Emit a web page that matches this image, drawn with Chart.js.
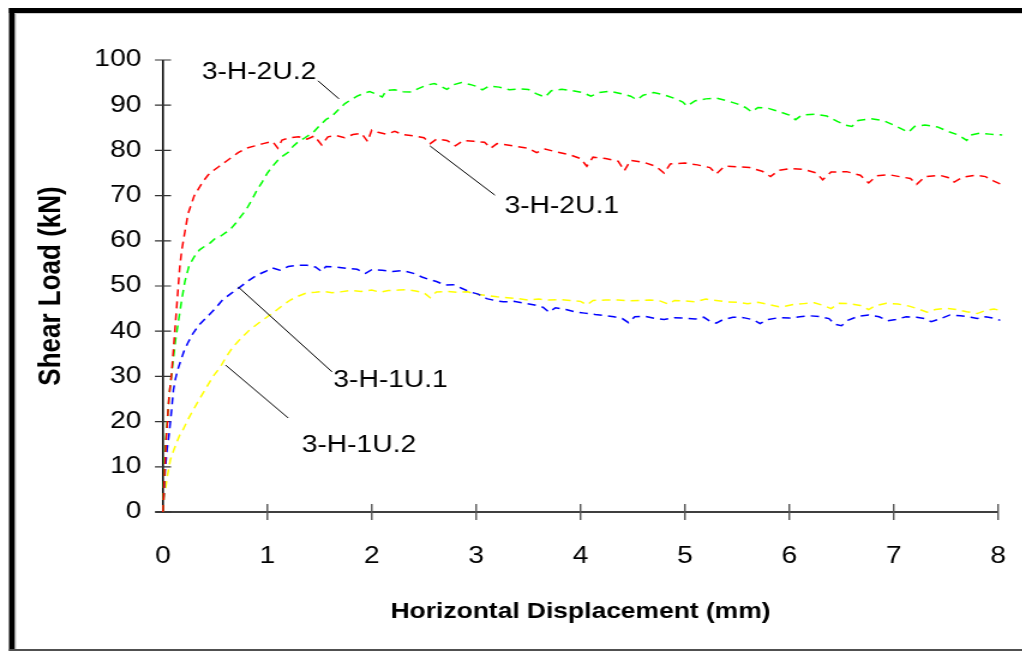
<!DOCTYPE html>
<html>
<head>
<meta charset="utf-8">
<script src="https://cdn.jsdelivr.net/npm/chart.js@4/dist/chart.umd.min.js"></script>
<style>
  html, body { margin: 0; padding: 0; background: #fff; overflow: hidden; }
  #wrap { width: 852px; height: 654px; transform: scaleX(1.2); transform-origin: 0 0; }
</style>
</head>
<body>
<div id="wrap"><canvas id="chart" width="852" height="654"></canvas></div>
<script>
// shear load vs horizontal displacement, four specimens
const xTicks = [0, 1, 2, 3, 4, 5, 6, 7, 8];
const yTicks = [0, 10, 20, 30, 40, 50, 60, 70, 80, 90, 100];

const seriesNames = ['3-H-2U.1', '3-H-2U.2', '3-H-1U.1', '3-H-1U.2'];
const seriesColors = ['#ff0000', '#00ff00', '#0000ff', '#ffff00'];

const red = [
  [0,0],[0.01,6],[0.02,11],[0.03,16],[0.04,19],[0.05,23],[0.06,26],[0.08,30],[0.1,36],[0.12,42],[0.14,48],[0.16,54],
  [0.18,58],[0.21,62],[0.24,66],[0.27,68],[0.3,70],[0.34,71.5],[0.38,73],[0.43,74.5],[0.48,75.5],[0.54,76.5],
  [0.6,77.5],[0.66,78.5],[0.72,79.5],[0.8,80.5],[0.88,81],[0.96,81.5],[1.05,82],[1.1,80.5],[1.14,82.3],[1.22,82.8],
  [1.3,83],[1.38,82.5],[1.45,83.2],[1.52,81.2],[1.58,83],[1.66,83.3],[1.74,82.8],[1.82,83.5],[1.9,83.8],[1.96,82],
  [2.0,84.5],[2.06,84],[2.14,83.6],[2.22,84.2],[2.3,83.5],[2.4,83.2],[2.5,82.8],[2.56,81.5],[2.62,82.5],[2.72,82.2],
  [2.8,81],[2.88,82.2],[2.98,82],[3.08,81.8],[3.14,80.5],[3.2,81.5],[3.3,81.2],[3.4,80.8],[3.5,80.5],[3.58,79.5],
  [3.66,80.3],[3.78,79.6],[3.9,79],[4.0,78.2],[4.06,76.5],[4.12,78.5],[4.24,78.2],[4.36,77.6],[4.42,75.5],[4.48,77.8],
  [4.6,77.4],[4.72,76.5],[4.8,75],[4.86,77],[5.0,77.2],[5.12,76.8],[5.24,76.2],[5.3,74.8],[5.38,76.5],[5.5,76.4],
  [5.62,76.2],[5.74,75.4],[5.82,74.2],[5.9,75.6],[6.02,76],[6.14,75.8],[6.26,75],[6.32,73.5],[6.4,75.2],[6.55,75.3],
  [6.68,74.5],[6.76,72.8],[6.84,74.4],[6.96,74.6],[7.08,74.1],[7.16,73.8],[7.22,72.5],[7.3,74.2],[7.44,74.5],[7.52,74],
  [7.58,73],[7.66,74.1],[7.78,74.5],[7.88,74.2],[7.96,73.2],[8.02,72.6],[8.08,71.6]
];

const green = [
  [0,0],[0.01,8],[0.02,14],[0.04,20],[0.06,26],[0.08,30],[0.1,34],[0.12,38],[0.15,42.5],[0.18,47],[0.21,51],
  [0.25,54.5],[0.3,56.5],[0.35,58],[0.4,58.8],[0.45,59.5],[0.5,60.5],[0.55,61],[0.6,61.8],[0.64,62.4],[0.7,64],
  [0.75,65.5],[0.8,67],[0.85,69],[0.9,71.2],[0.95,73],[1.0,75],[1.05,76.5],[1.1,77.8],[1.15,78.8],[1.2,79.6],
  [1.25,81],[1.3,82],[1.36,82.8],[1.44,84],[1.5,85.5],[1.56,86.8],[1.62,87.6],[1.68,89],[1.74,90.3],[1.8,91.2],
  [1.86,92],[1.92,92.6],[1.98,93],[2.04,92.5],[2.1,91.8],[2.14,93.3],[2.22,93.4],[2.3,93],[2.38,92.9],[2.44,93.6],
  [2.52,94.4],[2.6,94.8],[2.66,94.2],[2.72,93.5],[2.78,94.5],[2.86,95],[2.94,94.6],[3.0,94.2],[3.06,93.4],[3.12,94.2],
  [3.22,94],[3.32,93.4],[3.4,93.6],[3.5,93.5],[3.58,92.5],[3.66,91.8],[3.72,93.2],[3.82,93.5],[3.92,93.2],[4.02,92.8],
  [4.1,92],[4.18,92.8],[4.28,93.1],[4.38,92.6],[4.48,92],[4.54,91.2],[4.6,92.2],[4.7,92.8],[4.8,92.3],[4.9,91.5],
  [4.98,90.7],[5.02,89.8],[5.1,91],[5.2,91.4],[5.3,91.6],[5.4,91],[5.5,90.3],[5.58,89.5],[5.64,88.5],[5.7,89.5],
  [5.8,89.3],[5.9,88.6],[6.0,87.8],[6.06,86.8],[6.12,87.8],[6.24,88],[6.36,87.6],[6.46,86.4],[6.54,85.6],[6.6,85.3],
  [6.66,86.6],[6.78,87],[6.9,86.6],[7.0,85.6],[7.08,84.7],[7.14,84],[7.2,85.3],[7.3,85.6],[7.42,85.2],[7.52,84.2],
  [7.62,83.4],[7.7,82.2],[7.74,83.4],[7.82,83.8],[7.92,83.6],[8.04,83.4],[8.08,83.2]
];

const blue = [
  [0,0],[0.01,4],[0.02,9],[0.04,14],[0.06,17.5],[0.08,22],[0.1,27],[0.12,29.5],[0.14,31.4],[0.17,33.5],[0.2,35.5],
  [0.24,37.5],[0.29,39.6],[0.35,41.5],[0.42,43.1],[0.5,45],[0.57,46.9],[0.65,48.3],[0.74,49.8],[0.82,51.2],[0.9,52.4],
  [0.98,53.2],[1.05,54],[1.12,53.5],[1.2,54.3],[1.3,54.6],[1.38,54.6],[1.46,54.2],[1.52,53.2],[1.56,54.3],[1.66,54.2],
  [1.76,53.9],[1.86,53.7],[1.94,52.8],[2.0,53.6],[2.1,53.5],[2.2,53.2],[2.3,53.4],[2.4,52.8],[2.48,52],[2.54,51.5],
  [2.62,51],[2.7,50.2],[2.78,50.3],[2.86,49.5],[2.94,48.7],[3.02,48.2],[3.1,47.2],[3.18,46.8],[3.26,46.5],[3.36,46.6],
  [3.46,46.2],[3.56,45.8],[3.64,45.3],[3.7,44.2],[3.76,45.2],[3.86,44.8],[3.96,44.2],[4.04,44],[4.14,43.7],[4.22,43.5],
  [4.32,43.2],[4.4,42.8],[4.46,41.9],[4.52,43.2],[4.62,43.3],[4.72,42.8],[4.8,42.6],[4.9,43],[5.0,42.9],[5.1,42.7],
  [5.18,43.1],[5.24,42.2],[5.3,41.8],[5.36,42.5],[5.46,43.1],[5.56,43],[5.66,42.5],[5.72,41.7],[5.8,42.6],[5.9,43],
  [6.0,42.9],[6.1,43.2],[6.2,43.4],[6.3,43.2],[6.38,42.8],[6.44,41.5],[6.5,41.2],[6.56,42.4],[6.66,43.3],[6.76,43.6],
  [6.86,43.2],[6.94,42.3],[7.02,42.6],[7.12,43.2],[7.22,43.1],[7.3,42.8],[7.36,42.1],[7.44,42.7],[7.54,43.6],[7.64,43.4],
  [7.74,43.1],[7.8,42.8],[7.88,43.2],[7.96,42.9],[8.02,42.4],[8.08,41.9]
];

const yellow = [
  [0,0],[0.01,3],[0.03,6],[0.04,7.7],[0.07,11.5],[0.1,13.5],[0.13,15.3],[0.16,17],[0.19,18.1],[0.24,20.5],[0.29,22.6],
  [0.35,25],[0.42,27.7],[0.48,30],[0.55,32.1],[0.61,34.5],[0.67,36.5],[0.75,38.5],[0.83,40.3],[0.94,42.2],[1.05,44],
  [1.14,45.6],[1.22,46.9],[1.3,47.8],[1.38,48.5],[1.46,48.6],[1.54,48.8],[1.62,48.5],[1.7,48.7],[1.8,49],[1.9,48.8],
  [2.0,49.1],[2.08,48.6],[2.16,49],[2.26,49.1],[2.34,49.2],[2.42,48.9],[2.5,48.5],[2.56,47.4],[2.62,48.7],[2.72,48.8],
  [2.82,48.6],[2.92,48.7],[3.0,48.2],[3.1,47.9],[3.2,47.6],[3.3,47.4],[3.4,47.2],[3.5,46.9],[3.6,47.1],[3.7,46.9],
  [3.8,47],[3.9,46.8],[4.0,46.6],[4.06,45.8],[4.12,46.8],[4.24,46.9],[4.36,46.9],[4.46,46.7],[4.56,46.8],[4.66,46.9],
  [4.76,46.7],[4.84,46],[4.9,46.8],[5.0,46.7],[5.1,46.5],[5.2,47.1],[5.3,46.8],[5.4,46.5],[5.5,46.4],[5.6,46.1],
  [5.7,46.4],[5.8,45.9],[5.9,45.4],[5.96,45.5],[6.04,45.9],[6.14,46.1],[6.24,46.3],[6.34,45.6],[6.4,45],[6.48,46.2],
  [6.58,46.1],[6.68,45.7],[6.76,44.8],[6.82,45.6],[6.93,46.2],[7.04,46],[7.14,45.6],[7.24,44.9],[7.32,44.2],[7.4,44.8],
  [7.5,45.1],[7.6,44.8],[7.7,44.3],[7.8,43.9],[7.88,44.6],[7.96,44.9],[8.04,44.5],[8.08,44]
];

// callout text positions and leader lines, in data units
const calloutX = [3.82, 0.92, 2.18, 1.877];
const calloutY = [67.5, 97.3, 29.2, 14.8];
const leaders = [
  [2.557, 81, 3.18, 70.1],
  [1.485, 95.4, 1.686, 91.4],
  [0.72, 49.8, 1.62, 31],
  [0.6, 32.5, 1.2, 20.8]
];

const FONT = 'Arial, "Liberation Sans", sans-serif';

const frame = {
  id: 'frame',
  beforeDraw(chart) {
    const ctx = chart.ctx;
    ctx.save();
    ctx.fillStyle = '#fff';
    ctx.fillRect(0, 0, chart.width, chart.height);
    ctx.fillStyle = '#000';
    ctx.fillRect(7.5, 8, 5, 643);
    ctx.fillRect(7.5, 8, chart.width, 5);
    ctx.fillStyle = '#d0d0d0';
    ctx.fillRect(12.5, 13, 1, 637);
    ctx.fillRect(12.5, 13, chart.width, 1);
    ctx.fillStyle = '#505050';
    ctx.fillRect(7.5, 649, chart.width, 2);
    ctx.restore();
  }
};

const axes = {
  id: 'axes',
  beforeDatasetsDraw(chart) {
    const ctx = chart.ctx;
    const xs = chart.scales.x, ys = chart.scales.y;
    const x0 = xs.getPixelForValue(0), y0 = ys.getPixelForValue(0);
    ctx.save();
    ctx.strokeStyle = '#000';
    ctx.lineWidth = 1.5;
    ctx.beginPath();
    ctx.moveTo(x0, ys.getPixelForValue(100));
    ctx.lineTo(x0, y0);
    ctx.moveTo(x0 - 6.5, y0);
    ctx.lineTo(xs.getPixelForValue(8), y0);
    ctx.stroke();
    ctx.lineWidth = 1.2;
    ctx.strokeStyle = '#333';
    ctx.beginPath();
    yTicks.forEach(v => {
      const p = ys.getPixelForValue(v);
      ctx.moveTo(x0 - 6.7, p);
      ctx.lineTo(x0 + 6.7, p);
    });
    ctx.stroke();
    ctx.strokeStyle = '#555';
    ctx.lineWidth = 1.4;
    ctx.beginPath();
    xTicks.forEach(v => {
      if (v === 0) return;
      const p = xs.getPixelForValue(v);
      ctx.moveTo(p, y0 - 8);
      ctx.lineTo(p, y0 + 8);
    });
    ctx.stroke();
    ctx.restore();
  }
};

const callouts = {
  id: 'callouts',
  afterDatasetsDraw(chart) {
    const ctx = chart.ctx;
    const xs = chart.scales.x, ys = chart.scales.y;
    ctx.save();
    ctx.strokeStyle = '#000';
    ctx.lineWidth = 1;
    leaders.forEach(l => {
      ctx.beginPath();
      ctx.moveTo(xs.getPixelForValue(l[0]), ys.getPixelForValue(l[1]));
      ctx.lineTo(xs.getPixelForValue(l[2]), ys.getPixelForValue(l[3]));
      ctx.stroke();
    });
    ctx.fillStyle = '#000';
    ctx.font = '23.5px ' + FONT;
    ctx.textAlign = 'center';
    ctx.textBaseline = 'middle';
    seriesNames.forEach((name, i) => {
      ctx.fillText(name, xs.getPixelForValue(calloutX[i]), ys.getPixelForValue(calloutY[i]));
    });
    ctx.restore();
  }
};

const curves = [red, green, blue, yellow];

new Chart(document.getElementById('chart'), {
  type: 'line',
  data: {
    datasets: curves.map((pts, i) => ({
      label: seriesNames[i],
      data: pts.map(p => ({ x: p[0], y: p[1] })),
      borderColor: seriesColors[i],
      borderWidth: 1.5,
      borderDash: [7, 5],
      pointRadius: 0,
      tension: 0,
      fill: false,
      clip: false
    }))
  },
  options: {
    responsive: false,
    animation: false,
    devicePixelRatio: 1,
    layout: { padding: { left: 10, right: 20.3, top: 60, bottom: 10 } },
    plugins: { legend: { display: false }, tooltip: { enabled: false } },
    scales: {
      x: {
        type: 'linear',
        min: 0, max: 8,
        afterFit(scale) {
          scale.height = 132;
          scale.paddingLeft = 0;
          scale.paddingRight = 0;
        },
        grid: { display: false, drawTicks: false },
        border: { display: false },
        ticks: {
          stepSize: 1, padding: 30, color: '#000',
          font: { family: FONT, size: 23.5 }
        },
        title: {
          display: true,
          text: 'Horizontal Displacement (mm)',
          color: '#000',
          font: { family: FONT, size: 22, weight: 'bold' },
          padding: { top: 0, bottom: 19 }
        }
      },
      y: {
        min: 0, max: 100,
        afterFit(scale) { scale.width = 125.8; },
        grid: { display: false, drawTicks: false },
        border: { display: false },
        ticks: {
          stepSize: 10, padding: 18, color: '#000',
          font: { family: FONT, size: 23.5 }
        },
        title: {
          display: true,
          text: 'Shear Load (kN)',
          color: '#000',
          font: { family: FONT, size: 26, weight: 'bold' },
          padding: { top: 17.7, bottom: 0 }
        }
      }
    }
  },
  plugins: [frame, axes, callouts]
});
</script>
</body>
</html>
